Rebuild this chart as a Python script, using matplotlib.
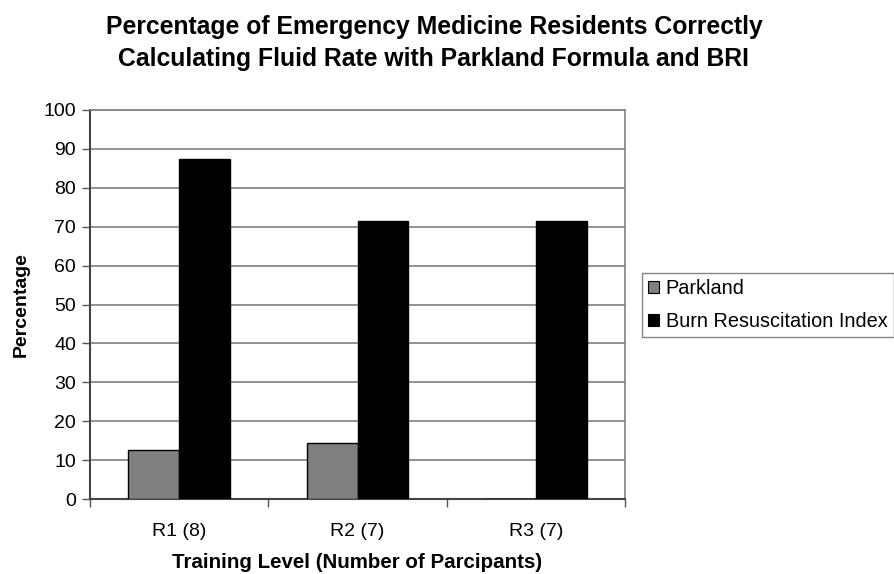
import numpy as np
from matplotlib import pyplot as plt
from matplotlib.patches import Patch

plt.rcParams['font.family'] = ['Liberation Sans', 'DejaVu Sans']

categories = ['R1 (8)', 'R2 (7)', 'R3 (7)']
parkland = [12.5, 14.3, 0.0]
bri = [87.5, 71.4, 71.4]
series_names = ['Parkland', 'Burn Resuscitation Index']
y_ticks = list(range(0, 101, 10))


def main():
    fig = plt.figure(figsize=(8.94, 5.74), dpi=100)
    ax = fig.add_axes([90 / 894, 1 - 499 / 574, 535 / 894, 389 / 574])

    x = np.arange(len(categories))
    w = 0.285
    ax.bar(x - w / 2, parkland, w, color='#808080', edgecolor='black', linewidth=1, zorder=3)
    ax.bar(x + w / 2, bri, w, color='black', edgecolor='black', linewidth=1, zorder=3)

    ax.set_xlim(-0.5, 2.5)
    ax.set_ylim(0, 100)
    ax.set_yticks(y_ticks)
    ax.set_xticks([-0.5, 0.5, 1.5, 2.5])
    ax.set_xticklabels([])
    ax.set_xticks(x, minor=True)
    ax.set_xticklabels(categories, minor=True, fontsize=14)
    ax.tick_params(axis='x', which='minor', length=0, pad=17)
    ax.tick_params(axis='x', which='major', direction='out', length=6, width=1, color='#555555')
    ax.tick_params(axis='y', direction='out', length=6, width=1, labelsize=14,
                   pad=4, color='#555555')

    ax.grid(axis='y', color='#808080', linewidth=1.2, zorder=0)
    for side in ['top', 'right']:
        ax.spines[side].set_color('#808080')
        ax.spines[side].set_linewidth(1.2)
    for side in ['left', 'bottom']:
        ax.spines[side].set_color('#444444')
        ax.spines[side].set_linewidth(1.5)

    ax.set_ylabel('Percentage', fontsize=14, fontweight='bold', labelpad=10)
    ax.set_xlabel('Training Level (Number of Parcipants)', fontsize=14.8,
                  fontweight='bold', labelpad=10)

    fig.suptitle('Percentage of Emergency Medicine Residents Correctly\n'
                 'Calculating Fluid Rate with Parkland Formula and BRI',
                 x=434 / 894, y=0.973, fontsize=17.8, fontweight='bold', linespacing=1.39)

    handles = [Patch(facecolor='#808080', edgecolor='black', linewidth=0.8),
               Patch(facecolor='black', edgecolor='black', linewidth=0.8)]
    leg = fig.legend(handles, series_names, loc='upper left',
                     bbox_to_anchor=(642 / 894, 1 - 273 / 574), fontsize=14.3,
                     frameon=True, fancybox=False, handlelength=0.55, handleheight=0.55,
                     handletextpad=0.35, borderpad=0.3, labelspacing=0.7, borderaxespad=0)
    leg.get_frame().set_edgecolor('#666666')
    leg.get_frame().set_linewidth(1)

    fig.savefig('out.png', dpi=100)


if __name__ == '__main__':
    main()
